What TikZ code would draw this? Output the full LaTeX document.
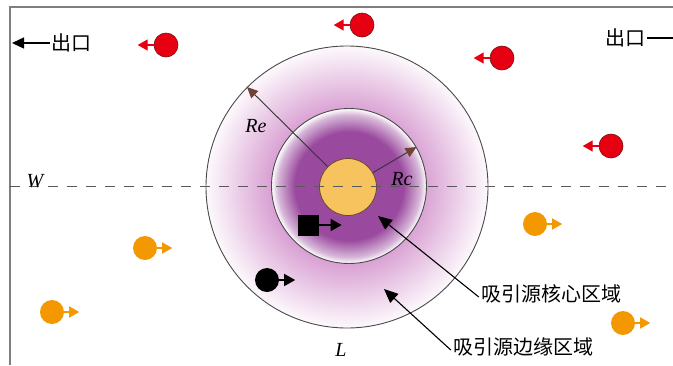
\documentclass[tikz,border=0pt]{standalone}
\usepackage{fontspec}
\setmainfont{Liberation Serif}
\newfontfamily\cjk{Noto Sans CJK SC}
\usetikzlibrary{arrows.meta,positioning,calc}
\usepackage{xcolor}
\definecolor{framegray}{HTML}{7F7F7F}
\definecolor{ringline}{HTML}{4A4A4A}
\definecolor{corefill}{HTML}{F6C35E}
\definecolor{coreline}{HTML}{6B4A2A}
\definecolor{deeppurple}{HTML}{9A4A9E}
\definecolor{softpurple}{HTML}{D9A0D3}
\definecolor{pedred}{HTML}{E60012}
\definecolor{pedredline}{HTML}{7A1010}
\definecolor{pedorange}{HTML}{F39800}
\definecolor{tipbrown}{HTML}{6E4334}

\pgfdeclareradialshading{coreglow}{\pgfpoint{0bp}{0bp}}{%
  color(0bp)=(deeppurple); color(17.5bp)=(deeppurple);
  color(23bp)=(deeppurple!40!white); color(25bp)=(white); color(50bp)=(white)}
\pgfdeclareradialshading{edgeglow}{\pgfpoint{0bp}{0bp}}{%
  color(0bp)=(softpurple); color(13.5bp)=(softpurple);
  color(25bp)=(softpurple!6!white); color(50bp)=(white)}

\tikzset{
  ped/.style={circle, minimum size=24pt, inner sep=0pt},
  redped/.style={ped, fill=pedred, draw=pedredline, line width=0.6pt},
  orangeped/.style={ped, fill=pedorange},
  redstep/.style={pedred, line width=1.4pt, -{Triangle[length=10pt, width=11pt]}},
  orangestep/.style={pedorange, line width=1.4pt, -{Triangle[length=10pt, width=11pt]}},
  blackstep/.style={black, line width=1.4pt, -{Triangle[length=11pt, width=12pt]}},
  radiusline/.style={black!80, line width=0.9pt, -{Triangle[length=11pt, width=10pt, color=tipbrown]}},
  pointer/.style={black, line width=1.1pt, -{Triangle[length=14pt, width=12pt]}},
  cjklabel/.style={font=\cjk\fontsize{20}{24}\selectfont, inner sep=2pt},
  mathlabel/.style={font=\itshape\fontsize{20}{24}\selectfont, inner sep=0pt}
}

\begin{document}
\begin{tikzpicture}[x=1pt, y=-1pt]
  \useasboundingbox (0,0) rectangle (673,365);
  % Frame
  \draw[framegray, line width=1.5pt] (10,365) -- (10,7) -- (673,7);
  % Attraction zones
  \node[circle, draw=ringline, line width=0.9pt, minimum size=282pt, inner sep=0pt, shading=edgeglow] (edgezone) at (347,187) {};
  \node[circle, draw=ringline, line width=0.9pt, minimum size=155pt, inner sep=0pt, shading=coreglow] (corezone) at (349,186) {};
  \node[circle, draw=coreline, line width=0.8pt, fill=corefill, minimum size=57pt, inner sep=0pt] (core) at (348,187) {};
  % Centre line
  \coordinate (wleft) at (10,186);
  \coordinate (wright) at (673,186);
  \draw[black!65, line width=0.9pt, dash pattern=on 10pt off 9pt] (wleft) -- (wright);
  \node[mathlabel] (wlabel) at (35,181) {W};
  \node[mathlabel] (llabel) at (341,350) {L};
  % Radii
  \draw[radiusline] (core.135) -- (edgezone.135);
  \draw[radiusline] (core.30) -- (corezone.30);
  \node[mathlabel] (relabel) at (256,126) {Re};
  \node[mathlabel] (rclabel) at (402,179) {Rc};
  % Exits
  \node[cjklabel] (exitleft) at (72,43) {出口};
  \coordinate (exitlefttip) at (12,43);
  \draw[black, line width=1.4pt, -{Triangle[length=12pt, width=11pt]}] (exitleft.west) -- (exitlefttip);
  \node[cjklabel] (exitright) at (625,38) {出口};
  \coordinate (exitrightend) at (673,38);
  \draw[black, line width=1.4pt] (exitright.east) -- (exitrightend);
  % Red pedestrians (moving left)
  \node[redped] (red1) at (166,45) {};
  \node[redped] (red2) at (362,25) {};
  \node[redped] (red3) at (502,58) {};
  \node[redped] (red4) at (611,146) {};
  \coordinate[left=16pt of red1] (red1tip);
  \coordinate[left=16pt of red2] (red2tip);
  \coordinate[left=16pt of red3] (red3tip);
  \coordinate[left=16pt of red4] (red4tip);
  \draw[redstep] (red1.west) -- (red1tip);
  \draw[redstep] (red2.west) -- (red2tip);
  \draw[redstep] (red3.west) -- (red3tip);
  \draw[redstep] (red4.west) -- (red4tip);
  % Orange pedestrians (moving right)
  \node[orangeped] (orange1) at (145,248) {};
  \node[orangeped] (orange2) at (52,312) {};
  \node[orangeped] (orange3) at (535,224) {};
  \node[orangeped] (orange4) at (623,323) {};
  \coordinate[right=15pt of orange1] (orange1tip);
  \coordinate[right=15pt of orange2] (orange2tip);
  \coordinate[right=15pt of orange3] (orange3tip);
  \coordinate[right=15pt of orange4] (orange4tip);
  \draw[orangestep] (orange1.east) -- (orange1tip);
  \draw[orangestep] (orange2.east) -- (orange2tip);
  \draw[orangestep] (orange3.east) -- (orange3tip);
  \draw[orangestep] (orange4.east) -- (orange4tip);
  % Black agents
  \node[fill=black, minimum size=21pt, inner sep=0pt] (square) at (308,225) {};
  \coordinate[right=23pt of square] (squaretip);
  \draw[blackstep] (square.east) -- (squaretip);
  \node[circle, fill=black, minimum size=24pt, inner sep=0pt] (dot) at (267,280) {};
  \coordinate[right=16pt of dot] (dottip);
  \draw[blackstep] (dot.east) -- (dottip);
  % Zone labels
  \node[cjklabel] (corelabel) at (551,294) {吸引源核心区域};
  \node[cjklabel] (edgelabel) at (523,347) {吸引源边缘区域};
  \coordinate (coretarget) at (378,216);
  \coordinate (edgetarget) at (384,289);
  \draw[pointer] ($(corelabel.west)+(0,3)$) -- (coretarget);
  \draw[pointer] ($(edgelabel.west)+(0,3)$) -- (edgetarget);
\end{tikzpicture}
\end{document}
